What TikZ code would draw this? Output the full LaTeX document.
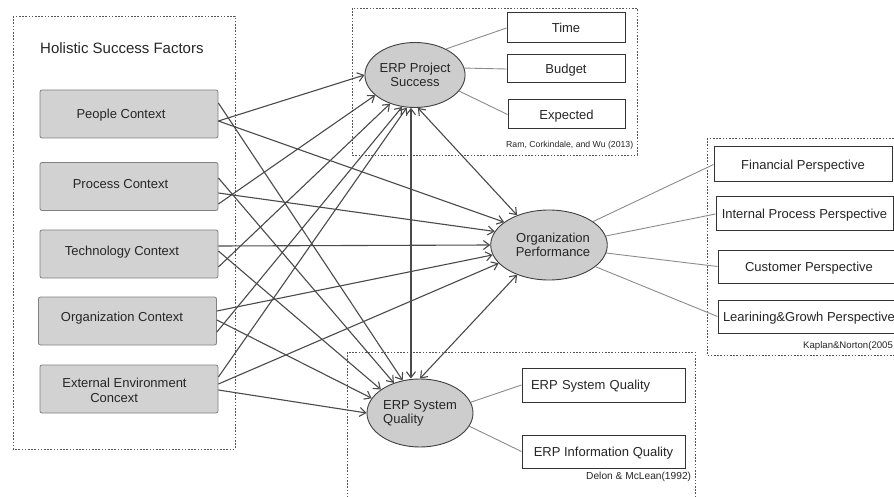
\documentclass[tikz,border=0pt]{standalone}
\usepackage{fontspec}
\setmainfont{Liberation Sans}
\usetikzlibrary{shapes.geometric,arrows.meta}
\definecolor{boxfill}{HTML}{D2D2D2}
\definecolor{ellfill}{HTML}{CDCDCD}
\definecolor{linec}{HTML}{4A4A4A}
\definecolor{thinc}{HTML}{8C8C8C}
\definecolor{dotc}{HTML}{555555}
\definecolor{txtc}{HTML}{262626}
\begin{document}
\begin{tikzpicture}[x=1pt,y=-1pt,
  dotbox/.style={draw=dotc, line width=0.8pt, dash pattern=on 1.6pt off 1.6pt},
  ctxbox/.style={draw=black!50, fill=boxfill, rounded corners=2pt, minimum width=178pt, minimum height=48pt, inner sep=0pt, line width=0.8pt},
  txt/.style={font=\fontsize{13}{15.5}\selectfont, inner sep=0pt, text=txtc, text height=9.3pt, text depth=0pt},
  ell/.style={ellipse, draw=black!75, fill=ellfill, line width=0.9pt, inner sep=0pt, font=\fontsize{13}{14}\selectfont, align=center, text=txtc},
  rbox/.style={draw=black!80, fill=white, line width=1pt, inner sep=0pt, font=\fontsize{13}{15}\selectfont, text=txtc, text height=9.3pt, text depth=0pt},
  cite/.style={inner sep=0pt, text=txtc, anchor=west},
  arr/.style={draw=linec, line width=1.1pt, arrows={-Straight Barb[length=6pt,width=9pt]}},
  biarr/.style={draw=linec, line width=1.1pt, arrows={Straight Barb[length=6pt,width=9pt]-Straight Barb[length=6pt,width=9pt]}},
  conn/.style={draw=thinc, line width=0.9pt}
]
\clip (0,0) rectangle (894,497);
\fill[white] (0,0) rectangle (894,497);

% dotted group frames
\draw[dotbox] (13,16) rectangle (235,449);
\draw[dotbox] (352,8) rectangle (637,155);
\draw[dotbox] (707,138) rectangle (905,355);
\draw[dotbox] (347,352) rectangle (695,505);

% left side
\node[txt, anchor=west, font=\fontsize{15}{17}\selectfont, text height=10.7pt] (title) at (40,48) {Holistic Success Factors};
\node[ctxbox] (ppl) at (129,114) {};
\node[ctxbox] (proc) at (129,186.5) {};
\node[ctxbox] (tech) at (129,254) {};
\node[ctxbox] (org) at (127.5,321) {};
\node[ctxbox] (ext) at (129,389) {};
\node[txt] (pplt) at (121,114) {People Context};
\node[txt] (proct) at (120.5,183.5) {Process Context};
\node[txt] (techt) at (122,250.5) {Technology Context};
\node[txt] (orgt) at (122,316.5) {Organization Context};
\node[inner sep=0pt, text=txtc, font=\fontsize{13}{15.5}\selectfont, align=left] (extt) at (124.5,390.5) {External Environment\\\hspace*{28pt}Concext};

% ellipses
\node[ell, minimum width=100pt, minimum height=65pt] (ps) at (415,75) {ERP Project\\Success};
\node[ell, minimum width=106pt, minimum height=70pt] (op) at (549,245) {\hspace*{8pt}Organization\\\hspace*{8pt}Performance};
\node[ell, minimum width=106pt, minimum height=68pt, align=left] (sq) at (420,413) {ERP System\\Quality};

% outcome boxes
\node[rbox, minimum width=118pt, minimum height=30pt] (time) at (566,28) {Time};
\node[rbox, minimum width=118pt, minimum height=28pt] (budget) at (566,69) {Budget};
\node[rbox, minimum width=117pt, minimum height=29pt] (expd) at (566.5,114.5) {Expected};
\node[cite, font=\fontsize{8.7}{10}\selectfont] (c1) at (506,145) {Ram, Corkindale, and Wu (2013)};

\node[rbox, minimum width=178pt, minimum height=35pt] (fin) at (803,164.5) {Financial Perspective};
\node[rbox, minimum width=177pt, minimum height=34pt] (intp) at (804.5,214) {Internal Process Perspective};
\node[rbox, minimum width=182pt, minimum height=33pt] (cust) at (809,266.5) {Customer Perspective};
\node[rbox, minimum width=182pt, minimum height=33pt] (learn) at (809,316.5) {Learining\&Growh Perspective};
\node[cite, font=\fontsize{9.6}{11}\selectfont] (c3) at (803,346) {Kaplan\&Norton(2005};

\node[rbox, minimum width=163pt, text width=145pt, inner xsep=9pt, align=left, minimum height=34pt] (esq) at (603.5,385) {ERP System Quality};
\node[rbox, minimum width=163pt, minimum height=33pt] (eiq) at (603.5,451.5) {ERP Information Quality};
\node[cite, font=\fontsize{10.2}{12}\selectfont] (c2) at (586,477) {Delon \& McLean(1992)};

% factors -> ERP Project Success
\draw[arr] ([yshift=-7pt]ppl.east) -- (ps.180);
\draw[arr] ([yshift=-17.5pt]proc.east) -- (ps.207);
\draw[arr] ([yshift=-13pt]tech.east) -- (ps.229);
\draw[arr] ([yshift=-11pt]org.east) -- (ps.248);
\draw[arr] ([yshift=12pt]ext.east) -- (ps.256);
% factors -> Organization Performance
\draw[arr] ([yshift=-7pt]ppl.east) -- (op.153);
\draw[arr] ([yshift=-6.5pt]proc.east) -- (op.166);
\draw[arr] ([yshift=8pt]tech.east) -- (op.180);
\draw[arr] ([yshift=10pt]org.east) -- (op.190);
\draw[arr] ([yshift=5pt]ext.east) -- (op.200);
% factors -> ERP System Quality
\draw[arr] ([yshift=11pt]ppl.east) -- (sq.118);
\draw[arr] ([yshift=8.5pt]proc.east) -- (sq.131);
\draw[arr] ([yshift=3pt]tech.east) -- (sq.149);
\draw[arr] ([yshift=1pt]org.east) -- (sq.163);
\draw[arr] ([yshift=-1pt]ext.east) -- (sq.180);
% between the three constructs
\draw[biarr] (ps.263) -- (ps.263 |- sq.north);
\draw[biarr] (ps.275) -- (op.137);
\draw[biarr] (sq.north) -- (op.223);

% measurement links
\draw[conn] (ps.40) -- (time.west);
\draw[conn] (ps.8) -- (budget.west);
\draw[conn] (ps.340) -- (expd.west);
\draw[conn] (op.28) -- (fin.west);
\draw[conn] (op.9) -- (intp.west);
\draw[conn] (op.352) -- (cust.west);
\draw[conn] (op.335) -- (learn.west);
\draw[conn] (sq.12) -- (esq.west);
\draw[conn] (sq.345) -- (eiq.west);
\end{tikzpicture}
\end{document}
